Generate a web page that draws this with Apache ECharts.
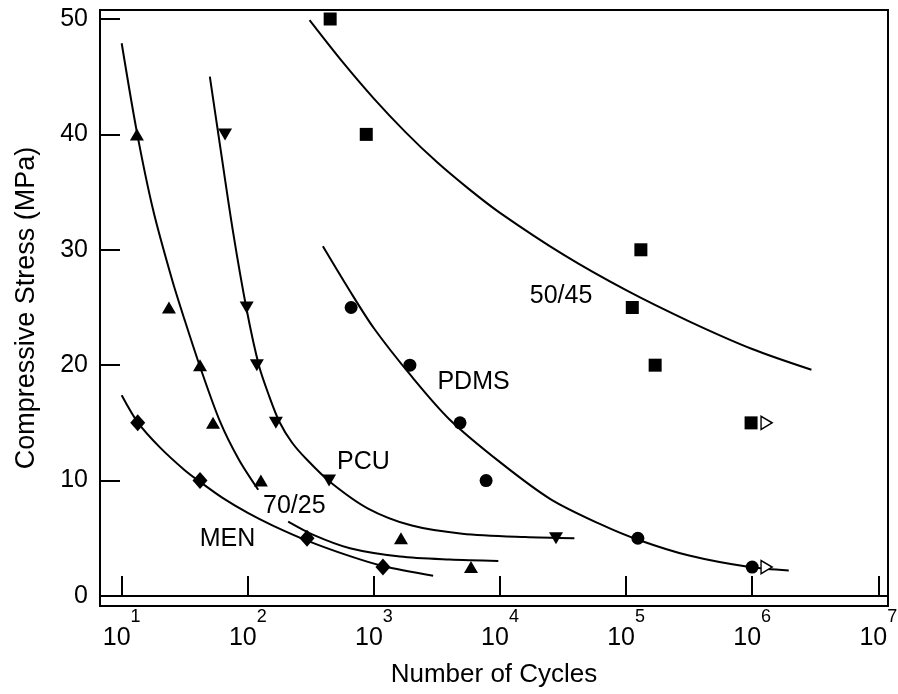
<!DOCTYPE html>
<html>
<head>
<meta charset="utf-8">
<title>Compressive Stress vs Number of Cycles</title>
<script src="https://cdn.jsdelivr.net/npm/echarts@6/dist/echarts.min.js"></script>
<style>
  html, body { margin: 0; padding: 0; background: #fff; }
  #chart { width: 898px; height: 694px; }
</style>
</head>
<body>
<div id="chart"></div>
<script>
// measured points: [cycles, stress MPa]
var pts5045 = [[450, 50], [870, 40], [131000, 30], [112000, 25], [170000, 20], [980000, 15]];
var ptsPDMS = [[660, 25], [1930, 20], [4820, 15], [7760, 10], [124000, 5], [1000000, 2.5]];
var ptsPCU  = [[66, 40], [98, 25], [118, 20], [167, 15], [441, 10], [27800, 5]];
var pts7025 = [[13.2, 40], [23.7, 25], [41.8, 20], [53, 15], [127, 10], [1640, 5], [5890, 2.5]];
var ptsMEN  = [[13.4, 15], [41.8, 10], [295, 5], [1180, 2.5]];
var runOuts = [[1300000, 15], [1300000, 2.5]];   // open arrows, no failure

// fitted curves
var fit5045 = [[309, 49.9], [562, 46.3], [1000, 43.1], [1780, 40.2], [3160, 37.6], [5620, 35.3],
  [10000, 33.2], [31600, 29.6], [100000, 26.5], [316000, 23.8], [1000000, 21.4], [2950000, 19.6]];
var fitPDMS = [[394, 30.3], [631, 26.6], [1000, 23.2], [2000, 19.0], [3980, 15.3], [10000, 11.6],
  [25100, 8.4], [63100, 6.2], [126000, 4.85], [316000, 3.5], [955000, 2.5], [1950000, 2.2]];
var fitPCU = [[50, 45.0], [59, 39.7], [76, 31.7], [98, 24.8], [123, 19.9], [148, 17.3], [178, 15.1],
  [224, 13.3], [295, 11.8], [447, 9.9], [891, 7.6], [2000, 6.1], [5010, 5.4], [15800, 5.1], [38900, 5.0]];
var fit7025a = [[10, 47.9], [13.2, 40.2], [17.8, 33.4], [25.1, 27.4], [31.6, 23.9], [41.7, 19.9],
  [60.3, 15.1], [85.1, 11.8], [121, 9.2]];
var fit7025b = [[209, 6.44], [331, 5.29], [646, 4.13], [1610, 3.41], [3980, 3.15], [9700, 3.03]];
var fitMEN = [[10, 17.4], [13.5, 15.0], [20, 12.9], [31.6, 10.9], [41.7, 9.9], [63.1, 8.5], [100, 7.2],
  [158, 6.1], [295, 4.8], [646, 3.45], [1175, 2.6], [2950, 1.75]];

// curve labels: [cycles, stress, text]
var curveNames = [[30500, 26.0, '50/45'], [6170, 18.5, 'PDMS'], [826, 11.6, 'PCU'],
  [234, 7.8, '70/25'], [69, 4.94, 'MEN']];

var xDecades = [1, 2, 3, 4, 5, 6, 7];
var yTicks = [0, 10, 20, 30, 40, 50];

var FONT = '"Liberation Sans", Arial, Helvetica, sans-serif';

function lg(pts) {
  return pts.map(function (p) { return [Math.log10(p[0]), p[1]]; });
}

function curve(pts) {
  return {
    type: 'line', data: lg(pts), smooth: 0.3, symbol: 'none', silent: true, z: 2,
    lineStyle: { color: '#000', width: 2 }
  };
}

function markers(pts, symbol, size, rotate, hollow) {
  return {
    type: 'scatter', data: lg(pts), symbol: symbol, symbolSize: size, symbolRotate: rotate || 0,
    silent: true, z: 3,
    itemStyle: hollow
      ? { color: '#fff', borderColor: '#000', borderWidth: 1.5, opacity: 1 }
      : { color: '#000', opacity: 1 }
  };
}

var chart = echarts.init(document.getElementById('chart'), null, { renderer: 'canvas' });

chart.setOption({
  animation: false,
  backgroundColor: '#fff',
  textStyle: { fontFamily: FONT },
  grid: {
    left: 100, top: 10, right: 10, bottom: 88,
    outerBoundsMode: 'none',
    show: true, borderColor: '#000', borderWidth: 2, backgroundColor: 'transparent'
  },
  xAxis: {
    type: 'value', min: 0.828, max: 7.077,
    name: 'Number of Cycles', nameLocation: 'middle', nameGap: 56,
    nameTextStyle: { fontSize: 26, color: '#000', fontFamily: FONT },
    axisLine: { lineStyle: { color: '#000', width: 2 } },
    axisTick: { inside: true, length: 20, customValues: xDecades, lineStyle: { color: '#000', width: 2 } },
    axisLabel: {
      customValues: xDecades, margin: 2, color: '#000',
      formatter: function (v) { return '{base|10}{sup|' + Math.round(v) + '}'; },
      rich: {
        base: { fontSize: 25, fontFamily: FONT, color: '#000', lineHeight: 43, verticalAlign: 'bottom' },
        sup: { fontSize: 18, lineHeight: 20, fontFamily: FONT, color: '#000', verticalAlign: 'top' }
      }
    },
    splitLine: { show: false }
  },
  yAxis: {
    type: 'value', min: -0.87, max: 50.78,
    name: 'Compressive Stress (MPa)', nameLocation: 'middle', nameGap: 60,
    nameTextStyle: { fontSize: 27, color: '#000', fontFamily: FONT },
    axisLine: { show: true, lineStyle: { color: '#000', width: 2 } },
    axisTick: { show: true, inside: true, length: 20, customValues: yTicks, lineStyle: { color: '#000', width: 2 } },
    axisLabel: { customValues: yTicks, margin: 12, fontSize: 25, color: '#000', fontFamily: FONT },
    splitLine: { show: false }
  },
  series: [
    curve(fit5045), curve(fitPDMS), curve(fitPCU), curve(fit7025a), curve(fit7025b), curve(fitMEN),
    markers(pts5045, 'rect', 13),
    markers(ptsPDMS, 'circle', 13),
    markers(ptsPCU, 'triangle', [14, 12], 180),
    markers(pts7025, 'triangle', [14, 12]),
    markers(ptsMEN, 'diamond', [15, 17]),
    markers(runOuts, 'triangle', [13, 11], -90, true),
    {
      type: 'scatter', silent: true, z: 4, symbolSize: 1,
      itemStyle: { color: 'rgba(0,0,0,0)', opacity: 1 },
      data: curveNames.map(function (c) { return { value: [Math.log10(c[0]), c[1]], name: c[2] }; }),
      label: {
        show: true, position: 'inside', formatter: '{b}',
        fontSize: 25, color: '#000', fontFamily: FONT,
        textBorderWidth: 0, textBorderColor: 'transparent'
      }
    }
  ]
});
</script>
</body>
</html>
